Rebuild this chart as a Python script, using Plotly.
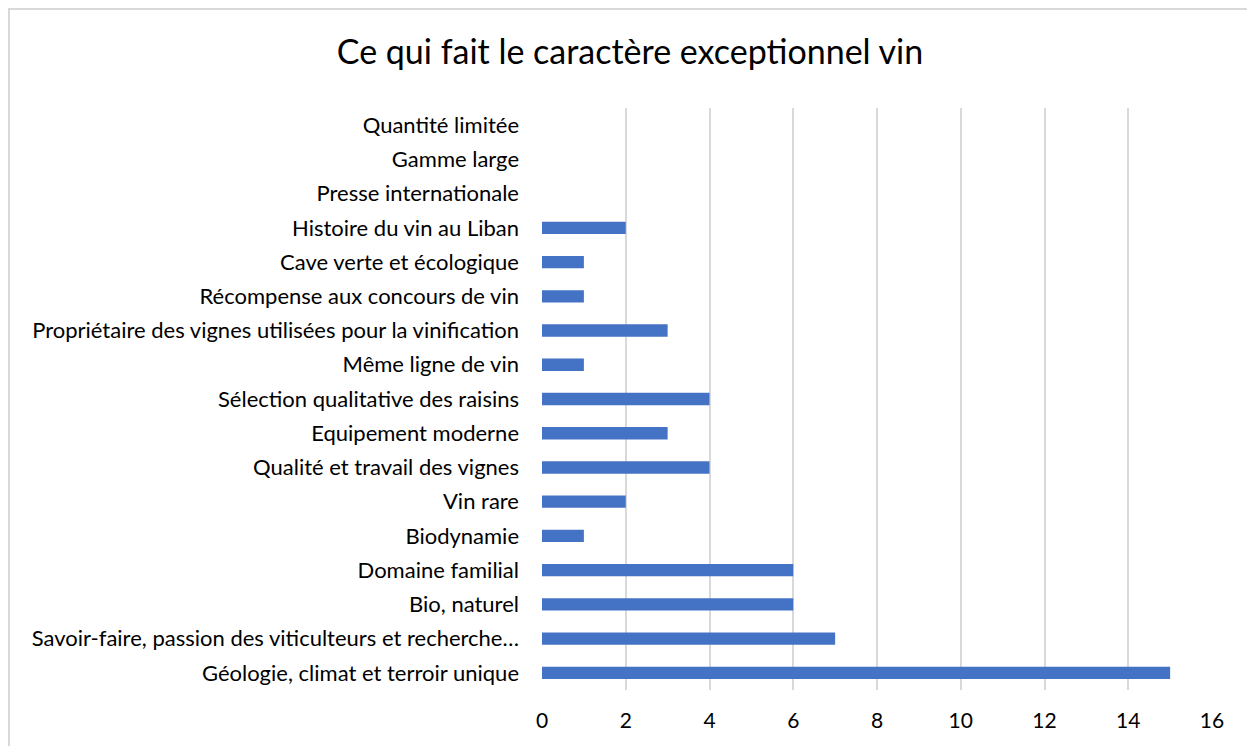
import plotly.graph_objects as go

categories = [
    "Géologie, climat et terroir unique",
    "Savoir-faire, passion des viticulteurs et recherche…",
    "Bio, naturel",
    "Domaine familial",
    "Biodynamie",
    "Vin rare",
    "Qualité et travail des vignes",
    "Equipement moderne",
    "Sélection qualitative des raisins",
    "Même ligne de vin",
    "Propriétaire des vignes utilisées pour la vinification",
    "Récompense aux concours de vin",
    "Cave verte et écologique",
    "Histoire du vin au Liban",
    "Presse internationale",
    "Gamme large",
    "Quantité limitée",
]
values = [15, 7, 6, 6, 1, 2, 4, 3, 4, 1, 3, 1, 1, 2, 0, 0, 0]
x_ticks = [0, 2, 4, 6, 8, 10, 12, 14, 16]
title = "Ce qui fait le caractère exceptionnel vin"

OFF = 8  # page body margin
W, H = 1255 - OFF, 746 - OFF
L, T = 542 - OFF, 108 - OFF
R = W - (1212 - OFF)
B = H - (690 - OFF)
pw, ph = W - L - R, H - T - B

def px(x):
    return (x - OFF - L) / pw

def py(y):
    return 1 - (y - OFF - T) / ph

font_family = "Lato, 'Open Sans', sans-serif"

fig = go.Figure(go.Bar(
    x=values, y=categories, orientation="h",
    marker=dict(color="#4472C4", line=dict(width=0)),
    width=0.36,
))

fig.update_layout(
    width=W, height=H,
    margin=dict(l=L, r=R, t=T, b=B, autoexpand=False),
    paper_bgcolor="white", plot_bgcolor="white",
    title=dict(text=title, x=(630 - OFF) / W, xref="container",
               xanchor="center", y=1 - (52 - OFF) / H, yref="container",
               yanchor="middle",
               font=dict(family=font_family, size=34, color="#000000")),
    font=dict(family=font_family, size=22, color="#000000"),
    showlegend=False,
    xaxis=dict(range=[0, 16], tickvals=x_ticks, showgrid=True,
               gridcolor="#d9d9d9", gridwidth=1.5, zeroline=False,
               showline=False, ticks="", ticklabelstandoff=16,
               tickfont=dict(size=21)),
    yaxis=dict(categoryorder="array", categoryarray=categories,
               showgrid=False, zeroline=False, showline=False,
               ticks="", ticklabelstandoff=22, tickfont=dict(size=22)),
    shapes=[dict(type="rect", xref="paper", yref="paper",
                 x0=px(9), x1=px(1253), y0=py(780), y1=py(9),
                 line=dict(color="#d9d9d9", width=2), layer="below")],
)

fig.write_html("out.html")
